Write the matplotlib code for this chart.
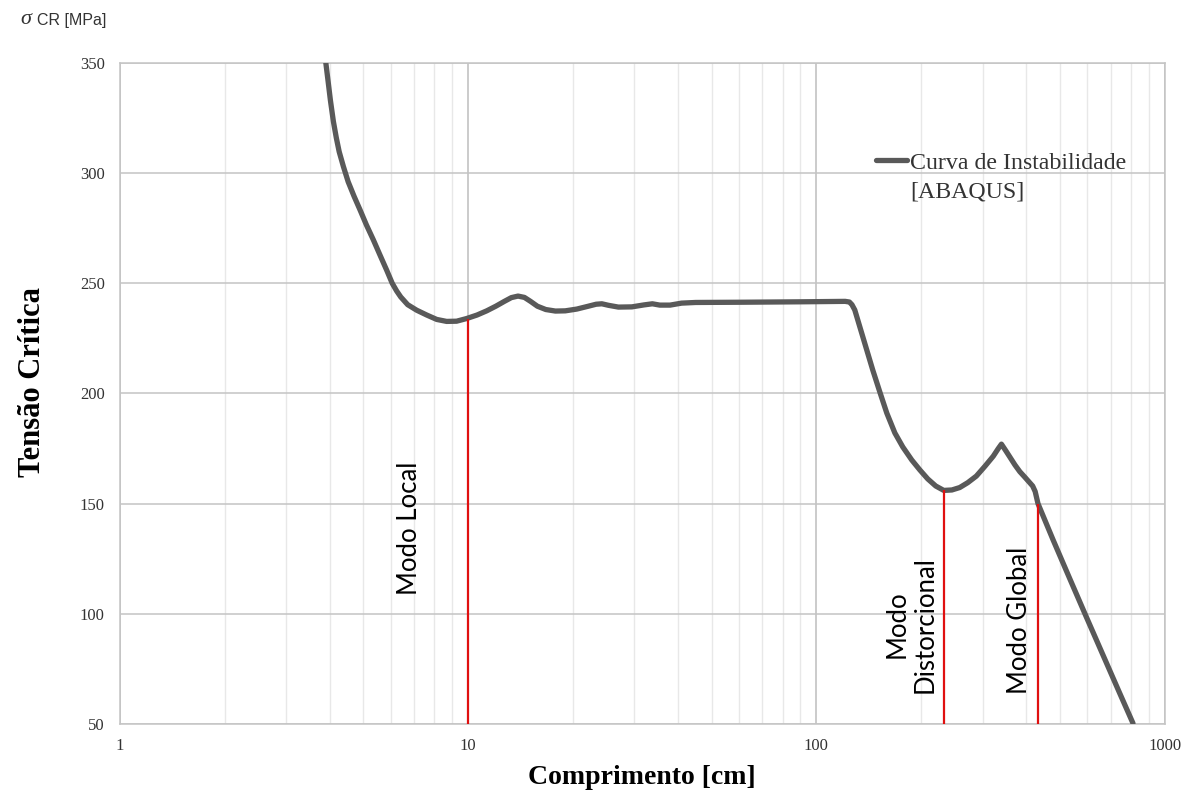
import numpy as np
import matplotlib.pyplot as plt
from matplotlib.ticker import LogLocator, FixedLocator, NullFormatter

# curve (comprimento [cm], tensao critica [MPa])
comprimento = [3.90, 3.96, 4.02, 4.10, 4.18, 4.26, 4.38, 4.52, 4.70, 4.89,
               5.10, 5.34, 5.58, 5.83, 6.05, 6.23, 6.40, 6.70, 7.11, 7.60,
               8.12, 8.67, 9.26, 9.89, 10.6, 11.3, 12.0, 12.7, 13.3, 13.9,
               14.5, 15.1, 15.8, 16.7, 17.8, 19.0, 20.5, 22.0, 23.3, 24.2,
               25.3, 27.0, 29.5, 32.0, 33.8, 35.5, 38.0, 41.0, 45.0, 60.0,
               90.0, 121.0, 124.4, 126.5, 128.9, 133.3, 138.7, 145.2, 152.1, 159.3,
               168.0, 177.1, 187.9, 198.2, 208.9, 220.2, 232.2, 245.0, 258.0,
               272.0, 288.0, 305.0, 322.0, 333.0, 340.0, 350.0, 359.0, 372.0, 384.0,
               397.0, 410.0, 418.0, 425.0, 433.0, 478.6, 533.7, 595.6, 665.5, 743.6,
               811.6]
tensao = [350, 341.5, 333, 323.4, 316, 309.7, 303, 296.1, 289.5, 283.3,
          276.5, 269.7, 262.8, 256, 250, 246.5, 243.8, 240.3, 237.8, 235.6,
          233.6, 232.7, 232.8, 234, 235.6, 237.5, 239.6, 241.8, 243.5, 244.2,
          243.6, 241.8, 239.6, 238.1, 237.4, 237.5, 238.3, 239.5, 240.5, 240.7,
          240.0, 239.2, 239.3, 240.2, 240.7, 240.1, 240.1, 241.0, 241.3, 241.4,
          241.6, 241.8, 241.5, 240.3, 237.9, 230.2, 221.1, 210.6, 200.7, 191.1,
          182.1, 175.7, 169.8, 165.3, 161.2, 158.0, 156.0, 156.2, 157.3,
          159.5, 162.5, 167, 171.5, 175, 177, 174, 171.3, 167.5, 164.5,
          162, 159.5, 158, 155.5, 150, 133.5, 116.1, 98.7, 81.3, 63.9,
          50.3]

modos_x = [10, 232, 433]
modos_top = [234, 156.0, 150]
modos_txt = ['Modo Local', 'Modo\nDistorcional', 'Modo Global']
modos_txt_x = [6.76, 186.6, 383.5]
modos_txt_y = [139, 95.3, 97.2]

fig = plt.figure(figsize=(11.91, 7.94), dpi=100)
ax = fig.add_axes([0.1008, 0.0882, 0.8770, 0.8325])

ax.set_xscale('log')
ax.set_xlim(1, 1000)
ax.set_ylim(50, 350)

ax.plot(comprimento, tensao, color='#595959', lw=3.8, solid_capstyle='round',
        solid_joinstyle='round', label='Curva de Instabilidade', zorder=3)
ax.vlines(modos_x, 50, modos_top, color='#e01010', lw=1.6, zorder=4)

for t, xx, yy in zip(modos_txt, modos_txt_x, modos_txt_y):
    ax.text(xx, yy, t, rotation=90, ha='center', va='center', family='Lato',
            fontsize=18.5, color='black', multialignment='center', linespacing=1.15)

# grid
ax.xaxis.set_major_locator(FixedLocator([1, 10, 100, 1000]))
ax.xaxis.set_minor_locator(LogLocator(base=10, subs=np.arange(2, 10)))
ax.xaxis.set_minor_formatter(NullFormatter())
ax.set_xticklabels(['1', '10', '100', '1000'])
ax.set_yticks([50, 100, 150, 200, 250, 300, 350])
ax.grid(which='major', axis='x', color='#bdbdbd', lw=1.1)
ax.grid(which='minor', axis='x', color='#e8e8e8', lw=1.0)
ax.grid(which='major', axis='y', color='#c4c4c4', lw=1.1)
ax.set_axisbelow(True)
for s in ax.spines.values():
    s.set_color('#c4c4c4')
    s.set_linewidth(1.1)
ax.tick_params(which='both', length=0)
ax.tick_params(axis='x', pad=10)
ax.tick_params(axis='y', pad=11)
for lab in ax.get_xticklabels() + ax.get_yticklabels():
    lab.set_family('Liberation Serif')
    lab.set_fontsize(12)
    lab.set_color('#333333')

ax.set_xlabel('Comprimento [cm]', family='Liberation Serif', fontweight='bold',
              fontsize=20, labelpad=8)
fig.text(0.027, 0.519, 'Tensão Crítica', rotation=90, ha='center', va='center',
         family='Liberation Serif', fontweight='bold', fontsize=22)
fig.text(0.017, 0.976, 'σ', family='Liberation Serif', style='italic',
         fontsize=16, ha='left', va='center', color='#333333')
fig.text(0.031, 0.974, 'CR [MPa]', family='Liberation Sans', fontsize=11.5,
         ha='left', va='center', color='#333333')

leg = ax.legend(loc='center left', bbox_to_anchor=(0.715, 0.8487), frameon=False,
                prop={'family': 'Liberation Serif', 'size': 17.2},
                handlelength=1.3, handletextpad=0.1, borderaxespad=0)
for t in leg.get_texts():
    t.set_color('#333333')
fig.text(0.7645, 0.758, '[ABAQUS]', family='Liberation Serif', fontsize=17.2,
         ha='left', va='center', color='#333333')

fig.savefig('out.png', dpi=100)
